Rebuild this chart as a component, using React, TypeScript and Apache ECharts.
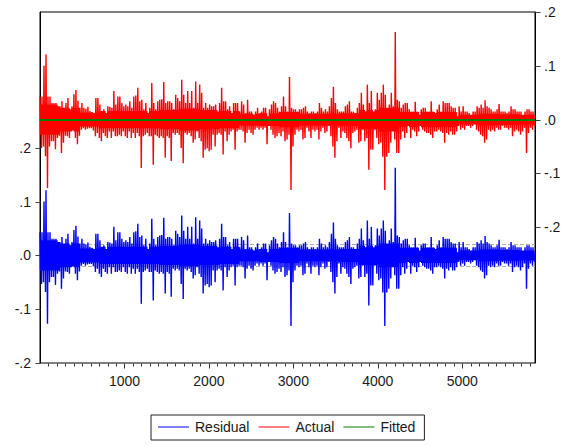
import React, { useEffect, useRef } from "react";
import * as echarts from "echarts";

// Residual envelope, in thousandths, one high/low pair per two pixels
const residualHigh = [
  43,43,100,121,43,43,31,31,31,25,25,34,22,31,40,19,25,47,55,35,22,31,22,20,24,16,14,12,40,40,28,16,19,12,25,
  24,22,53,28,43,43,31,25,28,25,34,22,43,45,59,34,37,19,31,12,22,68,31,19,34,37,38,70,31,34,34,31,19,46,40,34,74,46,31,53,31,53,22,71,31,65,50,22,31,22,
  28,25,25,28,15,31,59,34,34,19,25,12,31,31,31,15,34,28,12,37,15,15,9,15,22,12,15,22,22,6,19,28,34,31,22,15,25,43,25,15,79,22,19,19,15,19,
  19,22,25,15,12,15,15,12,15,31,22,15,19,15,25,40,61,31,19,15,15,15,25,28,34,15,15,12,22,31,50,28,15,65,31,53,15,19,50,37,50,65,46,22,28,50,25,163,37,
  34,22,28,31,31,19,15,15,33,15,9,19,22,22,15,15,34,15,12,19,28,15,34,31,31,31,25,22,22,6,25,15,25,
  15,15,12,9,15,15,25,22,28,22,36,25,22,19,15,15,19,29,15,15,15,12,15,25,19,19,15,15,15,9,15,19,19,15,15,
];
const residualLow = [
  -53,-50,-68,-127,-50,-40,-40,-55,-34,-30,-62,-43,-30,-31,-34,-22,-20,-34,-46,-30,-19,-16,-19,-17,-16,-16,-20,-31,-25,-34,-40,-25,-31,-34,-22,
  -34,-22,-31,-31,-28,-31,-22,-31,-34,-22,-34,-25,-34,-25,-31,-90,-31,-28,-25,-31,-31,-84,-28,-31,-34,-31,-34,-71,-31,-34,-77,-25,-28,-25,-28,-53,-81,-25,-28,-25,-31,-43,-37,-22,-34,-40,-71,-56,-53,-59,
  -56,-28,-50,-28,-25,-28,-65,-22,-40,-28,-22,-19,-56,-22,-19,-19,-22,-43,-25,-19,-25,-28,-19,-15,-19,-15,-19,-15,-46,-12,-19,-28,-34,-31,-25,-31,-22,-40,-37,-28,-131,-50,-28,-19,-22,-19,
  -37,-34,-15,-22,-34,-19,-22,-19,-37,-22,-15,-25,-22,-12,-31,-50,-71,-40,-15,-34,-22,-25,-34,-40,-53,-25,-22,-19,-43,-40,-19,-40,-34,-93,-56,-56,-19,-34,-46,-43,-69,-131,-69,-62,-43,-22,-37,-62,-62,
  -37,-22,-34,-25,-12,-34,-19,-22,-31,-22,-12,-19,-22,-25,-25,-28,-34,-22,-22,-19,-22,-25,-43,-25,-28,-22,-28,-28,-22,-12,-19,-15,-19,
  -12,-12,-15,-12,-9,-19,-22,-28,-31,-43,-37,-19,-22,-19,-22,-15,-19,-19,-12,-15,-15,-19,-15,-31,-22,-19,-22,-28,-22,-15,-62,-25,-15,-19,-12,
];
// Half-height of the solid core of the band, in thousandths, one value per ten high/low pairs
const residualCore = [28,22,13,16,16,16,18,20,18,16,11,12,14,11,11,12,18,22,14,14,14,9,11,10,9];
const fittedObservations = [1, 1000, 2000, 3000, 4000, 5000, 5861];
const fittedValues = [-0.0007, -0.0007, -0.0007, -0.0007, -0.0007, -0.0007, -0.0007];
const leftTicks = [-0.2, -0.1, 0, 0.1, 0.2];
const rightTicks = [-0.2, -0.1, 0, 0.1, 0.2];
const xMajorTicks = [1000, 2000, 3000, 4000, 5000];
const xMinorTicks = [
  100,200,300,400,500,600,700,800,900,1100,1200,1300,1400,1500,1600,1700,1800,1900,
  2100,2200,2300,2400,2500,2600,2700,2800,2900,3100,3200,3300,3400,3500,3600,3700,3800,3900,
  4100,4200,4300,4400,4500,4600,4700,4800,4900,5100,5200,5300,5400,5500,5600,5700,5800,
];
const standardError = 0.0158;
const firstObservation = 0;
const lastObservation = 5861;
const leftMin = -0.2;

const FONT = "'Liberation Sans', Arial, sans-serif";
const TEXT = "#1a1a1a";
const fmt = (v: number) => {
  const s = Math.abs(v).toFixed(1).replace(/^0/, "");
  return v < -1e-9 ? "-" + s : s;
};

function tickSeries(data: number[][], yAxisIndex: number, dx: number, dy: number, color: string) {
  return {
    type: "custom",
    silent: true,
    clip: false,
    yAxisIndex,
    data,
    encode: { x: 0, y: 1 },
    renderItem: (_: unknown, api: any) => {
      const p = api.coord([api.value(0), api.value(1)]);
      const x = Math.round(p[0]) + 0.5;
      const y = Math.round(p[1]) + 0.5;
      return {
        type: "line",
        shape: { x1: x, y1: y, x2: x + dx, y2: y + dy },
        style: { stroke: color, lineWidth: 1 },
      };
    },
  };
}

export default function App() {
  const ref = useRef<HTMLDivElement>(null);
  useEffect(() => {
    const chart = echarts.init(ref.current!, undefined, { renderer: "svg" });
    const n = residualHigh.length;
    const step = lastObservation / n;
    const residual: [number, number][] = [];
    for (let i = 0; i < n; i++) {
      const hi = residualHigh[i] / 1000;
      const lo = residualLow[i] / 1000;
      const core = residualCore[Math.min(residualCore.length - 1, Math.floor(i / 10))] / 1000;
      residual.push([i * step, hi]);
      residual.push([(i + 0.25) * step, Math.max(lo, -core)]);
      residual.push([(i + 0.5) * step, Math.min(hi, core)]);
      residual.push([(i + 0.75) * step, lo]);
    }
    const fitted = fittedObservations.map((x, i) => [x, fittedValues[i]]);
    const actual = residual.map(([x, v]) => [x, v]);
    const line = (name: string, color: string, data: number[][], yAxisIndex: number, width = 1.4) => ({
      name,
      type: "line",
      data,
      yAxisIndex,
      symbol: "none",
      showSymbol: false,
      lineStyle: { color, width },
      itemStyle: { color },
      emphasis: { disabled: true },
    });
    chart.setOption({
      animation: false,
      grid: { left: 40, top: 12, width: 495, height: 351, show: true, borderColor: "#000", borderWidth: 1, backgroundColor: "transparent" },
      xAxis: {
        type: "value", min: firstObservation, max: lastObservation, position: "bottom",
        axisLine: { show: true, lineStyle: { color: "#000", width: 1 } },
        axisTick: { show: false },
        axisLabel: { show: true, customValues: xMajorTicks, formatter: (v: number) => String(v), color: TEXT, fontSize: 14, fontFamily: FONT, margin: 11 },
        splitLine: { show: false },
      },
      yAxis: [
        {
          type: "value", min: leftMin, max: 0.4524, position: "left",
          axisLine: { show: true, lineStyle: { color: "#000", width: 1 } },
          axisTick: { show: false },
          axisLabel: { customValues: leftTicks, formatter: fmt, color: TEXT, fontSize: 14, fontFamily: FONT, margin: 9 },
          splitLine: { show: false },
        },
        {
          type: "value", min: -0.4524, max: 0.2, position: "right",
          axisLine: { show: true, lineStyle: { color: "#000", width: 1 } },
          axisTick: { show: false },
          axisLabel: { customValues: rightTicks, formatter: fmt, color: TEXT, fontSize: 14, fontFamily: FONT, margin: 9 },
          splitLine: { show: false },
        },
      ],
      legend: {
        show: true,
        left: 151,
        top: 415,
        data: [
          { name: "Residual", icon: "rect", itemStyle: { color: "#0000ff" } },
          { name: "Actual", icon: "rect", itemStyle: { color: "#ff0000" } },
          { name: "Fitted", icon: "rect", itemStyle: { color: "#008000" } },
        ],
        orient: "horizontal",
        borderColor: "#222",
        borderWidth: 1,
        padding: [5, 9, 6, 7],
        itemGap: 9,
        itemWidth: 31,
        itemHeight: 1,
        textStyle: { color: TEXT, fontSize: 14, fontFamily: FONT, padding: [0, 0, 0, 1] },
        selectedMode: false,
      },
      series: [
        {
          name: "Standard error",
          type: "line",
          data: [],
          silent: true,
          markLine: {
            silent: true,
            z: 1,
            symbol: "none",
            label: { show: false },
            lineStyle: { color: "#b0b0b0", type: "dashed", width: 1 },
            data: [{ yAxis: standardError }, { yAxis: -standardError }],
          },
        },
        line("Residual", "#0000ff", residual, 0),
        line("Actual", "#ff0000", actual, 1),
        line("Fitted", "#008000", fitted, 1, 2),
        tickSeries(leftTicks.map((v) => [firstObservation, v]), 0, -5, 0, "#444"),
        tickSeries(rightTicks.map((v) => [lastObservation, v]), 1, 5, 0, "#444"),
        tickSeries(xMinorTicks.map((v) => [v, leftMin]), 0, 0, 3, "#333"),
        tickSeries(xMajorTicks.map((v) => [v, leftMin]), 0, 0, 5, "#333"),
      ],
    });
    return () => chart.dispose();
  }, []);
  return <div ref={ref} style={{ position: "fixed", left: 0, top: 0, width: 566, height: 446, background: "#fff" }} />;
}
